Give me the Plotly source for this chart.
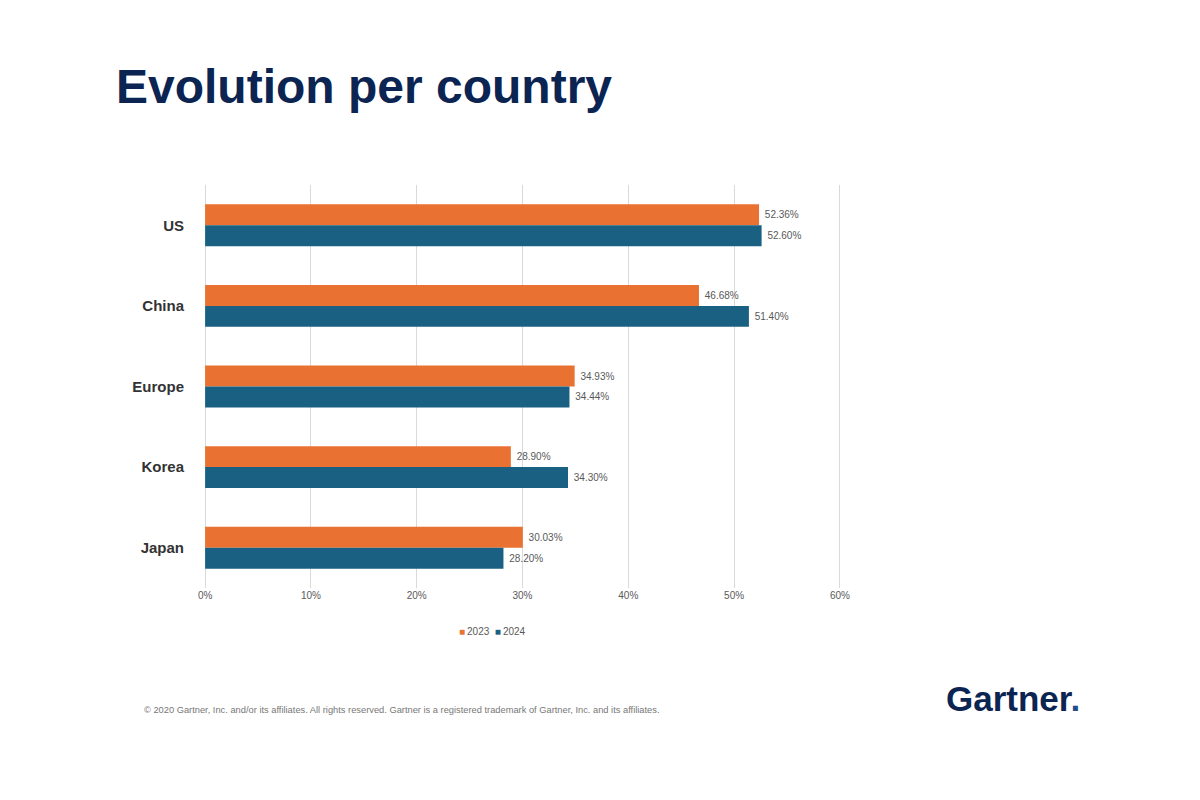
import plotly.graph_objects as go

countries = ["US", "China", "Europe", "Korea", "Japan"]
values_2023 = [52.36, 46.68, 34.93, 28.90, 30.03]
values_2024 = [52.60, 51.40, 34.44, 34.30, 28.20]
tick_vals = [0, 10, 20, 30, 40, 50, 60]
tick_text = ["0%", "10%", "20%", "30%", "40%", "50%", "60%"]
series_names = ["2023", "2024"]

ORANGE = "#E97132"
BLUE = "#196082"
NAVY = "#0B2452"
FONT = "Liberation Sans, Arial, sans-serif"

fig = go.Figure()
for name, vals, col in [(series_names[0], values_2023, ORANGE), (series_names[1], values_2024, BLUE)]:
    fig.add_trace(go.Bar(
        y=countries, x=vals, name=name, orientation="h",
        marker=dict(color=col, line=dict(width=0)),
        text=[f"\u00a0{v:.2f}%" for v in vals],
        textposition="outside", cliponaxis=False,
        textfont=dict(family=FONT, size=10, color="#595959"),
        showlegend=False,
    ))

# plot area in page pixels: x ~203..842, y 185..588 (body margin 8px accounted for)
fig.update_layout(
    width=1200, height=800,
    paper_bgcolor="white", plot_bgcolor="white",
    margin=dict(l=195, r=366, t=177, b=220),
    barmode="group", bargap=0.48, bargroupgap=0,
    xaxis=dict(range=[-0.2, 60.2], tickvals=tick_vals, ticktext=tick_text,
               showgrid=True, gridcolor="#D9D9D9", gridwidth=1, zeroline=False,
               showline=False, ticks="",
               tickfont=dict(family=FONT, size=10, color="#595959")),
    yaxis=dict(autorange="reversed", showgrid=False, showline=False, ticks="",
               ticklabelstandoff=18,
               tickfont=dict(family="Liberation Sans Narrow, Arial Narrow, " + FONT,
                             size=15, color="#333333", weight="bold")),
    font=dict(family=FONT),
)

H = 403.0
def py(y):  # page y -> paper y
    return (588 - y) / H
def px(x):
    return (x - 203) / 639.0

# legend drawn as text
fig.add_annotation(
    text=f"<span style='color:{ORANGE}'>■</span>\u2009{series_names[0]}\u00a0\u00a0<span style='color:{BLUE}'>■</span>\u2009{series_names[1]}",
    xref="paper", yref="paper", x=px(492), y=py(631), xanchor="center", yanchor="middle",
    showarrow=False, font=dict(family=FONT, size=10, color="#595959"))

fig.add_annotation(text="<b>Evolution per country</b>", xref="paper", yref="paper",
                   x=px(114), y=py(87), xanchor="left", yanchor="middle",
                   showarrow=False,
                   font=dict(family=FONT, size=48, color=NAVY))

fig.add_annotation(text="© 2020 Gartner, Inc. and/or its affiliates. All rights reserved. Gartner is a registered trademark of Gartner, Inc. and its affiliates.",
                   xref="paper", yref="paper", x=px(142), y=py(710),
                   xanchor="left", yanchor="middle", showarrow=False,
                   font=dict(family=FONT, size=9.3, color="#777777"))

fig.add_annotation(text="<b>Gartner</b><span style='color:#1f4f8a'><b>.</b></span>",
                   xref="paper", yref="paper", x=px(1082), y=py(698),
                   xanchor="right", yanchor="middle", showarrow=False,
                   font=dict(family=FONT, size=35, color=NAVY))

fig.write_html("out.html")
